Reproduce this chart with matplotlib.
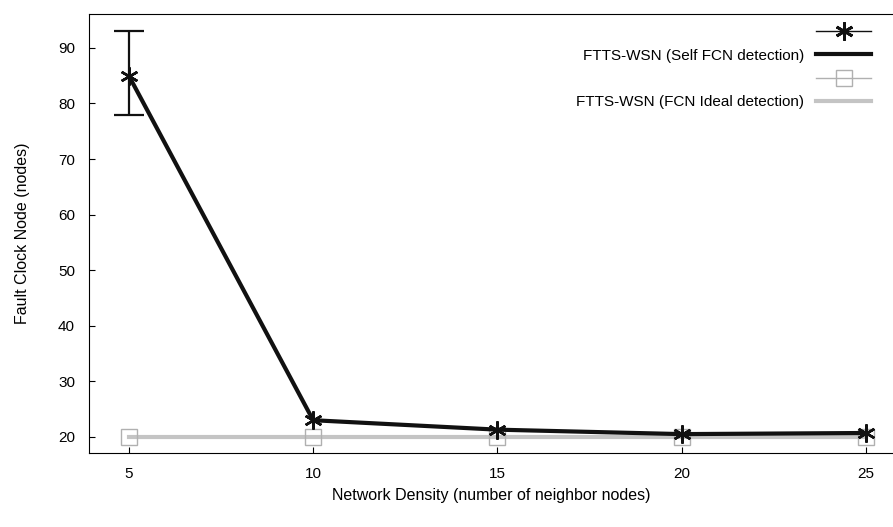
import matplotlib
matplotlib.use("Agg")
import matplotlib.pyplot as plt
from matplotlib.lines import Line2D

density = [5, 10, 15, 20, 25]
self_fcn = [85, 23, 21.3, 20.5, 20.7]
err_x = [5]
err_y = [85]
err_low = [7]
err_high = [8]
ideal_fcn = [20, 20, 20, 20, 20]
xticks = [5, 10, 15, 20, 25]
yticks = [20, 30, 40, 50, 60, 70, 80, 90]
labels = ["FTTS-WSN (Self FCN detection)", "FTTS-WSN (FCN Ideal detection)"]

plt.rcParams['font.family'] = ['Liberation Sans', 'DejaVu Sans']
fig = plt.figure(figsize=(8.93, 5.27), dpi=100)
ax = fig.add_axes([89/893, 1-453/527, 1-89/893, (453-14)/527])

ax.plot(density, ideal_fcn, color='#c4c4c4', lw=3, marker='s', ms=11,
        mfc='none', mec='#b0b0b0', mew=1, zorder=2)
ax.errorbar(err_x, err_y, yerr=[err_low, err_high], fmt='none', ecolor='#111111',
            elinewidth=1.6, capsize=11, capthick=1.6, zorder=3)
ax.plot(density, self_fcn, color='#111111', lw=3, marker=(6, 2, 0), ms=13, mew=1.8,
        zorder=4)

ax.set_xlim(3.92, 25.73)
ax.set_ylim(17.1, 96.1)
ax.set_xticks(xticks)
ax.set_yticks(yticks)
ax.tick_params(direction='in', length=4, labelsize=11, pad=10)
ax.spines['right'].set_visible(False)
ax.set_xlabel("Network Density (number of neighbor nodes)", fontsize=11.5, labelpad=5)
ax.set_ylabel("Fault Clock Node (nodes)", fontsize=11.5, labelpad=20)

h1 = Line2D([], [], color='#111111', lw=1, marker=(6, 2, 0), ms=13, mew=2)
h2 = Line2D([], [], color='#111111', lw=3)
h3 = Line2D([], [], color='#b0b0b0', lw=1, marker='s', ms=11, mfc='none', mec='#b0b0b0')
h4 = Line2D([], [], color='#c4c4c4', lw=3)
ax.legend([h1, h2, h3, h4], ["", labels[0], "", labels[1]], loc='upper right',
          frameon=False, markerfirst=False, fontsize=11, handlelength=3.6,
          labelspacing=0.6, bbox_to_anchor=(0.99, 1.005))

fig.savefig("out.png", dpi=100)
